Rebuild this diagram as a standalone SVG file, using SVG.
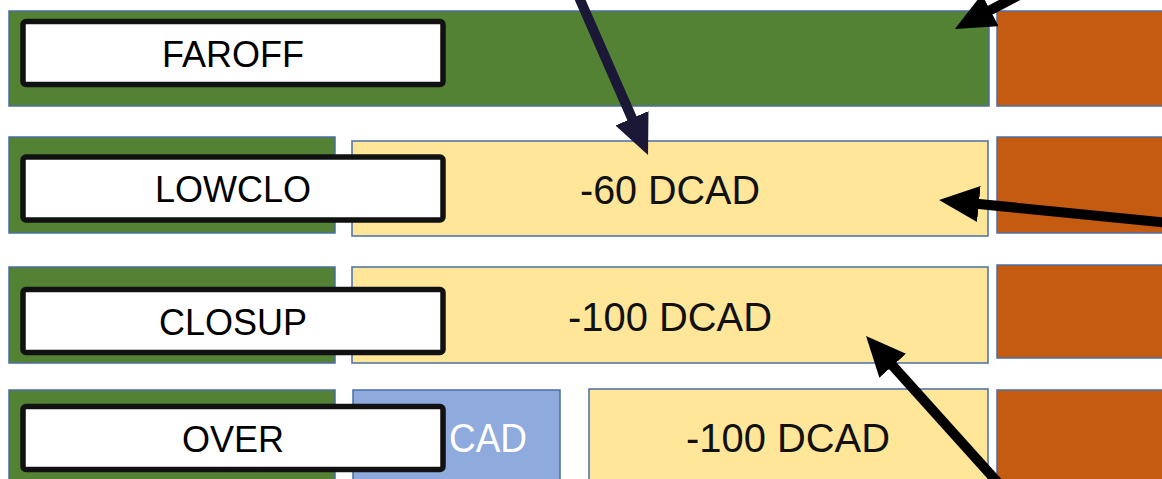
<svg xmlns="http://www.w3.org/2000/svg" width="1162" height="479" viewBox="0 0 1162 479">
<style>
.cell{stroke:#4a6fa5;stroke-width:1.5}
.g{fill:#548235}.o{fill:#c55a11}.y{fill:#ffe699}.b{fill:#8faadc}
.lab{fill:#ffffff;stroke:#111111;stroke-width:5.5}
.lt{font-family:"Liberation Sans",Arial,sans-serif;font-size:36px;fill:#000;text-anchor:middle}
.dt{font-family:"Liberation Sans",Arial,sans-serif;font-size:40px;fill:#111}
.arr{fill:none;stroke-width:10}
</style>
<defs>
<marker id="hk" markerUnits="userSpaceOnUse" markerWidth="40" markerHeight="36" refX="10" refY="18" orient="auto" viewBox="0 0 40 36"><path d="M0,0 L40,18 L0,36 z" fill="#000"/></marker>
<marker id="hn" markerUnits="userSpaceOnUse" markerWidth="40" markerHeight="36" refX="10" refY="18" orient="auto" viewBox="0 0 40 36"><path d="M0,0 L40,18 L0,36 z" fill="#1a1836"/></marker>
</defs>
<rect width="1162" height="479" fill="#ffffff"/>
<g id="row-faroff">
<rect class="cell g" x="9" y="11" width="980" height="95"/>
<rect class="cell o" x="997" y="11" width="170" height="95"/>
</g>
<g id="row-lowclo">
<rect class="cell g" x="9" y="137" width="326" height="96"/>
<rect class="cell y" x="352" y="141" width="636" height="95"/>
<text class="dt" x="580" y="204" textLength="180" lengthAdjust="spacingAndGlyphs">-60 DCAD</text>
<rect class="cell o" x="997" y="137" width="170" height="96"/>
</g>
<g id="row-closup">
<rect class="cell g" x="9" y="267" width="326" height="96"/>
<rect class="cell y" x="352" y="267" width="636" height="96"/>
<text class="dt" x="568" y="331" textLength="204" lengthAdjust="spacingAndGlyphs">-100 DCAD</text>
<rect class="cell o" x="997" y="265" width="170" height="93"/>
</g>
<g id="row-over">
<rect class="cell g" x="9" y="390" width="326" height="100"/>
<rect class="cell b" x="353" y="390" width="207" height="100"/>
<text class="dt" x="449" y="452" style="fill:#ffffff" textLength="78" lengthAdjust="spacingAndGlyphs">CAD</text>
<rect class="cell y" x="589" y="389" width="399" height="100"/>
<text class="dt" x="686" y="452" textLength="204" lengthAdjust="spacingAndGlyphs">-100 DCAD</text>
<rect class="cell o" x="997" y="390" width="170" height="100"/>
</g>
<g id="label-faroff"><rect class="lab" x="23" y="21.5" width="420" height="63" rx="3"/><text class="lt" x="233" y="67">FAROFF</text></g>
<g id="label-lowclo"><rect class="lab" x="23" y="157" width="420" height="63" rx="3"/><text class="lt" x="233" y="202">LOWCLO</text></g>
<g id="label-closup"><rect class="lab" x="23" y="289.5" width="420" height="63" rx="3"/><text class="lt" x="233" y="335">CLOSUP</text></g>
<g id="label-over"><rect class="lab" x="23" y="406.5" width="420" height="63" rx="3"/><text class="lt" x="233" y="452">OVER</text></g>
<g id="connectors">
<line class="arr" x1="578" y1="-5" x2="636" y2="127.5" stroke="#1a1836" marker-end="url(#hn)"/>
<line class="arr" x1="1040" y1="-16" x2="981.4" y2="14.9" stroke="#000" marker-end="url(#hk)"/>
<line class="arr" x1="1170" y1="223" x2="968.9" y2="203" stroke="#000" marker-end="url(#hk)"/>
<line class="arr" x1="1000" y1="485" x2="886.1" y2="358.3" stroke="#000" marker-end="url(#hk)"/>
</g>
</svg>
